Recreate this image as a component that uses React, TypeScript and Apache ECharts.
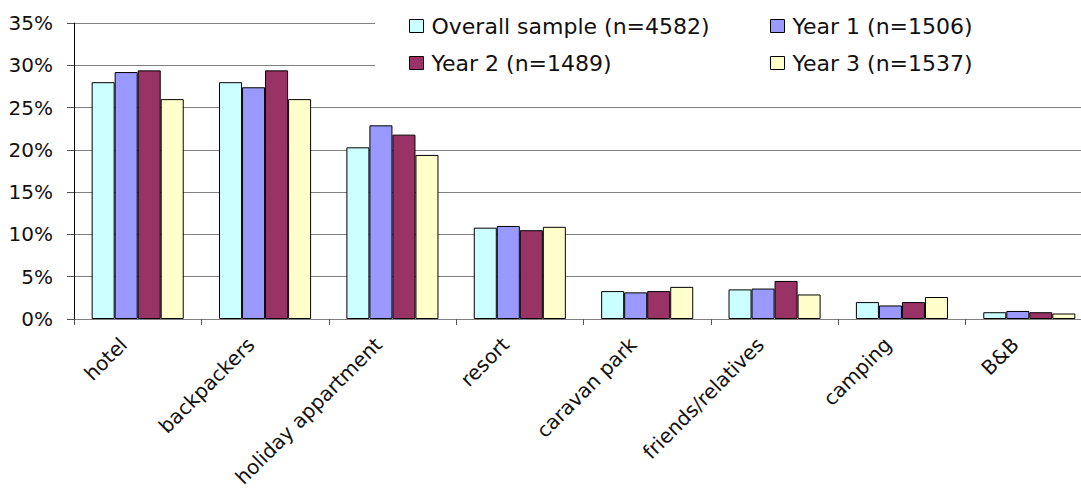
import React, { useEffect, useRef } from "react";
import * as echarts from "echarts";

const categories = [
  "hotel",
  "backpackers",
  "holiday appartment",
  "resort",
  "caravan park",
  "friends/relatives",
  "camping",
  "B&B",
];

const seriesNames = [
  "Overall sample (n=4582)",
  "Year 1 (n=1506)",
  "Year 2 (n=1489)",
  "Year 3 (n=1537)",
];

const overall = [28.0, 28.0, 20.3, 10.8, 3.3, 3.5, 2.0, 0.8];
const year1 = [29.2, 27.4, 22.9, 11.0, 3.15, 3.6, 1.6, 0.95];
const year2 = [29.4, 29.4, 21.8, 10.5, 3.3, 4.5, 2.0, 0.8];
const year3 = [26.0, 26.0, 19.4, 10.9, 3.8, 2.9, 2.6, 0.65];

const seriesColors = ["#CCFFFF", "#9999FF", "#993366", "#FFFFCC"];

const FONT = "DejaVu Sans";

const App: React.FC = () => {
  const chartRef = useRef<HTMLDivElement>(null);

  useEffect(() => {
    document.body.style.margin = "0";
    if (!chartRef.current) return;
    const chart = echarts.init(chartRef.current, undefined, { renderer: "svg" });
    const values = [overall, year1, year2, year3];

    const legendBase = {
      orient: "vertical",
      top: 9,
      z: 5,
      icon: "rect",
      itemWidth: 14,
      itemHeight: 13,
      itemGap: 13,
      itemStyle: { borderColor: "#000", borderWidth: 1 },
      textStyle: { fontFamily: FONT, fontSize: 22, color: "#111", lineHeight: 24, padding: [0, 0, 0, 3] },
    };

    chart.setOption({
      animation: false,
      textStyle: { fontFamily: FONT },
      grid: {
        left: 74,
        top: 23,
        width: 1019,
        height: 296,
        outerBoundsMode: "none",
        containLabel: false,
      },
      graphic: [
        {
          // white box behind the legend hides the top gridlines
          type: "rect",
          z: 3,
          shape: { x: 375, y: 0, width: 720, height: 85 },
          style: { fill: "#fff" },
        },
      ],
      legend: [
        { ...legendBase, left: 404, data: [seriesNames[0], seriesNames[2]] },
        { ...legendBase, left: 765, data: [seriesNames[1], seriesNames[3]] },
      ],
      xAxis: {
        type: "category",
        data: categories,
        axisLine: { lineStyle: { color: "#808080", width: 1 } },
        axisTick: { show: true, length: 6, lineStyle: { color: "#555" } },
        axisLabel: {
          rotate: 45,
          margin: 8,
          interval: 0,
          fontFamily: FONT,
          fontSize: 20,
          color: "#111",
          padding: [0, 20, 0, 0],
        },
      },
      yAxis: {
        type: "value",
        min: 0,
        max: 35,
        interval: 5,
        axisLine: { show: true, lineStyle: { color: "#000", width: 1 } },
        axisTick: { show: true, length: 7, lineStyle: { color: "#555" } },
        splitLine: { show: true, lineStyle: { color: "#808080", width: 1 } },
        axisLabel: {
          formatter: "{value}%",
          margin: 21,
          fontFamily: FONT,
          fontSize: 20,
          color: "#111",
        },
      },
      series: seriesNames.map((name, i) => ({
        name,
        type: "bar",
        data: values[i],
        barGap: "0%",
        barCategoryGap: "27.7%",
        itemStyle: { color: seriesColors[i], borderColor: "#000", borderWidth: 1 },
      })),
    });

    return () => {
      chart.dispose();
    };
  }, []);

  return <div ref={chartRef} style={{ width: 1081, height: 492 }} />;
};

export default App;
